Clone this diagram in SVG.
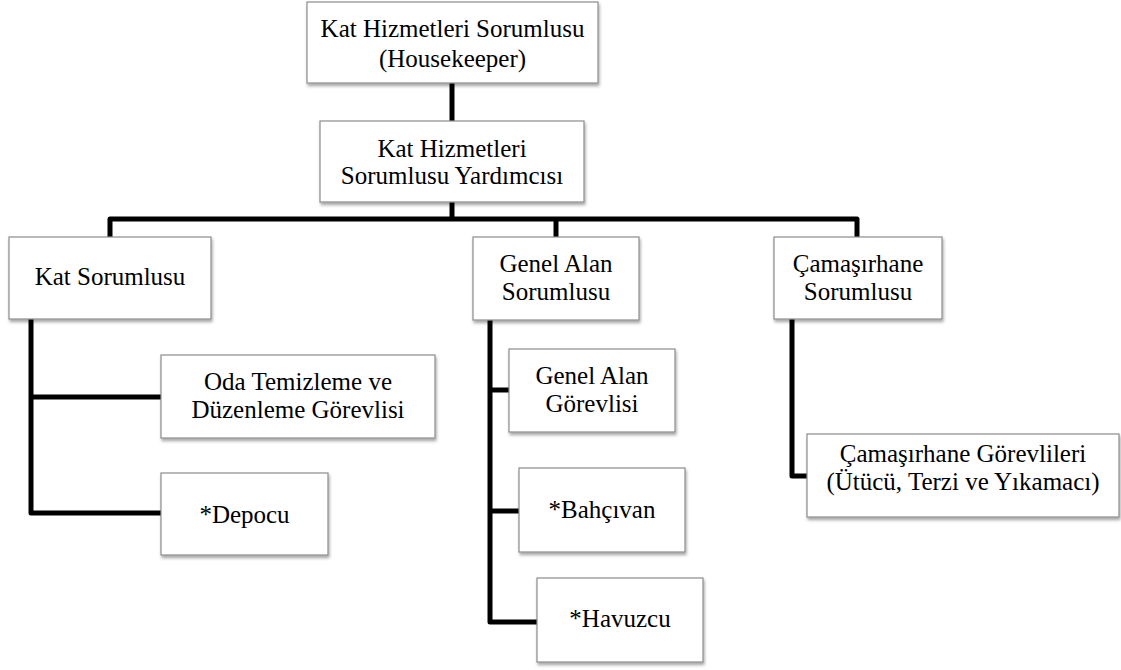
<svg xmlns="http://www.w3.org/2000/svg" width="1121" height="670" viewBox="0 0 1121 670">
  <style>
    .box { fill: #ffffff; stroke: #8c8c8c; stroke-width: 1.2; filter: url(#shadow); }
    .lbl { font-family: 'Liberation Serif', 'Times New Roman', 'DejaVu Serif', serif; font-size: 25px; fill: #000; text-anchor: middle; }
    .wire { fill: none; stroke: #000; stroke-width: 5; stroke-linejoin: round; stroke-linecap: butt; }
  </style>
  <defs>
    <filter id="shadow" x="-10%" y="-10%" width="120%" height="130%">
      <feDropShadow dx="1" dy="2.5" stdDeviation="1.5" flood-color="#000" flood-opacity="0.35"/>
    </filter>
  </defs>
  <rect width="1121" height="670" fill="#ffffff"/>

  <!-- connectors -->
  <g id="connectors">
    <path class="wire" d="M452 83 V121"/>
    <path class="wire" d="M452 202 V219"/>
    <path class="wire" d="M110 237 V219 H857 V237"/>
    <path class="wire" d="M556 219 V237"/>
    <!-- Kat Sorumlusu branch -->
    <path class="wire" d="M31 319 V513 H161"/>
    <path class="wire" d="M31 397 H161"/>
    <!-- Genel Alan Sorumlusu branch -->
    <path class="wire" d="M490 320 V622 H537"/>
    <path class="wire" d="M490 390 H509"/>
    <path class="wire" d="M490 511 H519"/>
    <!-- Çamaşırhane Sorumlusu branch -->
    <path class="wire" d="M792 319 V476 H807"/>
  </g>

  <g id="housekeeper">
    <rect class="box" x="307" y="2" width="291" height="81"/>
    <text class="lbl" x="452.5" y="37">Kat Hizmetleri Sorumlusu</text>
    <text class="lbl" x="452.5" y="67">(Housekeeper)</text>
  </g>

  <g id="assistant">
    <rect class="box" x="320" y="121" width="264" height="81"/>
    <text class="lbl" x="452" y="157">Kat Hizmetleri</text>
    <text class="lbl" x="452" y="184">Sorumlusu Yardımcısı</text>
  </g>

  <g id="kat-sorumlusu">
    <rect class="box" x="9" y="237" width="202" height="82"/>
    <text class="lbl" x="110" y="285">Kat Sorumlusu</text>
  </g>

  <g id="oda-temizleme">
    <rect class="box" x="161" y="355" width="274" height="83"/>
    <text class="lbl" x="298" y="390">Oda Temizleme ve</text>
    <text class="lbl" x="298" y="418">Düzenleme Görevlisi</text>
  </g>

  <g id="depocu">
    <rect class="box" x="161" y="473" width="167" height="82"/>
    <text class="lbl" x="244.5" y="523">*Depocu</text>
  </g>

  <g id="genel-alan-sorumlusu">
    <rect class="box" x="473" y="237" width="166" height="83"/>
    <text class="lbl" x="556" y="272">Genel Alan</text>
    <text class="lbl" x="556" y="300">Sorumlusu</text>
  </g>

  <g id="genel-alan-gorevlisi">
    <rect class="box" x="509" y="349" width="166" height="83"/>
    <text class="lbl" x="592" y="384">Genel Alan</text>
    <text class="lbl" x="592" y="412">Görevlisi</text>
  </g>

  <g id="bahcivan">
    <rect class="box" x="519" y="468" width="166" height="84"/>
    <text class="lbl" x="602" y="518">*Bahçıvan</text>
  </g>

  <g id="havuzcu">
    <rect class="box" x="537" y="578" width="166" height="84"/>
    <text class="lbl" x="620" y="627">*Havuzcu</text>
  </g>

  <g id="camasirhane-sorumlusu">
    <rect class="box" x="774" y="237" width="168" height="82"/>
    <text class="lbl" x="858" y="272">Çamaşırhane</text>
    <text class="lbl" x="858" y="300">Sorumlusu</text>
  </g>

  <g id="camasirhane-gorevlileri">
    <rect class="box" x="807" y="434" width="312" height="83"/>
    <text class="lbl" x="963" y="462">Çamaşırhane Görevlileri</text>
    <text class="lbl" x="963" y="490">(Ütücü, Terzi ve Yıkamacı)</text>
  </g>
</svg>
